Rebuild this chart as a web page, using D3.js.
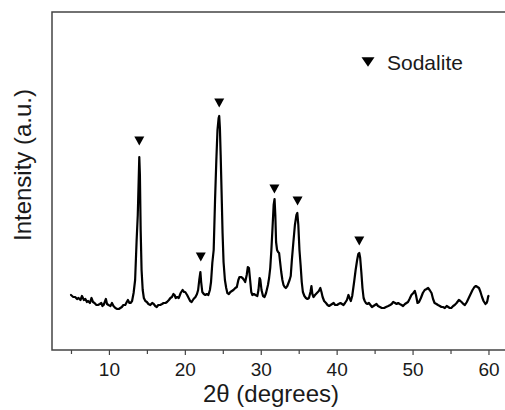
<!DOCTYPE html>
<html>
<head>
<meta charset="utf-8">
<script src="https://d3js.org/d3.v7.min.js"></script>
<style>
    body {
        margin: 0;
        background-color: #fff;
        font-family: 'Liberation Sans', Arial, sans-serif;
    }
</style>
</head>
<body>
    <svg width="505" height="410"></svg>
    <script type="text/javascript">
    // XRD pattern (2theta in degrees, intensity in a.u.)
    var twoTheta = [5.0, 5.3, 5.55, 5.8, 6.0, 6.25, 6.45, 6.7, 6.9, 7.1, 7.25, 7.5, 7.7, 7.9, 8.1, 8.35, 8.55, 8.8, 9.0, 9.15,
        9.3, 9.45, 9.6, 9.75, 9.95, 10.2, 10.4, 10.6, 10.85, 11.1, 11.3, 11.5, 11.7, 11.9, 12.15, 12.35, 12.5, 12.7, 12.85, 13.05,
        13.25, 13.45, 13.65, 13.8, 13.92, 14.0, 14.08, 14.18, 14.3, 14.45, 14.6, 14.8, 15.0, 15.2, 15.45, 15.7, 15.9, 16.1, 16.3, 16.5,
        16.75, 17.0, 17.2, 17.45, 17.65, 17.9, 18.1, 18.3, 18.5, 18.65, 18.8, 19.0, 19.2, 19.45, 19.7, 19.9, 20.05, 20.3, 20.5, 20.7,
        20.9, 21.15, 21.4, 21.6, 21.75, 21.9, 22.05, 22.15, 22.3, 22.5, 22.7, 22.9, 23.1, 23.3, 23.45, 23.62, 23.8, 23.98, 24.15, 24.3,
        24.45, 24.53, 24.62, 24.72, 24.85, 24.97, 25.1, 25.28, 25.45, 25.6, 25.8, 26.0, 26.2, 26.4, 26.65, 26.85, 27.05, 27.2, 27.4, 27.6,
        27.8, 27.95, 28.15, 28.3, 28.45, 28.6, 28.75, 28.9, 29.1, 29.3, 29.55, 29.7, 29.85, 29.95, 30.1, 30.3, 30.5, 30.7, 30.95, 31.1,
        31.25, 31.4, 31.55, 31.7, 31.82, 31.92, 32.02, 32.15, 32.28, 32.42, 32.55, 32.7, 32.85, 33.0, 33.15, 33.3, 33.5, 33.65, 33.8, 33.95,
        34.1, 34.3, 34.5, 34.7, 34.82, 34.95, 35.1, 35.25, 35.4, 35.55, 35.75, 35.95, 36.15, 36.35, 36.55, 36.68, 36.8, 36.95, 37.15, 37.4,
        37.65, 37.85, 38.0, 38.15, 38.35, 38.6, 38.8, 39.0, 39.2, 39.4, 39.6, 39.8, 40.05, 40.25, 40.5, 40.7, 40.9, 41.1, 41.35, 41.55,
        41.7, 41.87, 42.05, 42.3, 42.5, 42.7, 42.85, 42.98, 43.1, 43.25, 43.4, 43.55, 43.7, 43.85, 44.05, 44.25, 44.45, 44.65, 44.85, 45.05,
        45.25, 45.45, 45.7, 45.95, 46.25, 46.5, 46.8, 47.05, 47.25, 47.45, 47.7, 47.9, 48.1, 48.3, 48.55, 48.75, 49.0, 49.2, 49.4, 49.6,
        49.85, 50.1, 50.3, 50.45, 50.65, 50.85, 51.1, 51.35, 51.6, 51.85, 52.05, 52.25, 52.5, 52.7, 52.9, 53.15, 53.35, 53.6, 53.8, 54.0,
        54.25, 54.5, 54.7, 54.9, 55.1, 55.35, 55.55, 55.8, 56.1, 56.3, 56.45, 56.7, 56.9, 57.15, 57.4, 57.65, 57.9, 58.15, 58.35, 58.55,
        58.75, 58.95, 59.15, 59.35, 59.6, 59.75, 59.85, 59.95, 60.0];
    var intensity = [55, 53, 53, 51, 52, 50, 54, 50, 51, 48, 49, 47, 52, 48, 47, 45, 45, 46, 47, 44,
        45, 48, 51, 46, 45, 44, 47, 44, 42, 41, 41, 42, 43, 45, 45, 48, 50, 47, 47, 49,
        57, 70, 110, 135, 170, 193, 175, 120, 80, 60, 52, 49, 48, 46, 45, 47, 46, 44, 43, 45,
        45, 46, 47, 47, 48, 50, 52, 53, 56, 55, 52, 53, 52, 57, 60, 58, 58, 55, 52, 49,
        48, 51, 53, 56, 60, 70, 78, 68, 58, 56, 55, 56, 55, 60, 68, 87, 100, 150, 190, 220,
        232, 234, 222, 195, 155, 117, 88, 70, 62, 57, 56, 58, 59, 60, 62, 63, 70, 73, 73, 72,
        70, 68, 75, 83, 82, 70, 58, 55, 56, 55, 54, 60, 72, 70, 60, 54, 53, 57, 65, 72,
        82, 100, 122, 145, 151, 135, 108, 100, 98, 97, 88, 78, 70, 65, 63, 62, 64, 67, 70, 74,
        90, 108, 125, 135, 137, 125, 100, 85, 68, 58, 54, 52, 51, 52, 58, 64, 56, 53, 55, 57,
        59, 62, 58, 53, 49, 47, 45, 44, 45, 46, 47, 45, 45, 46, 47, 46, 45, 47, 50, 55,
        52, 49, 54, 68, 80, 90, 96, 97, 92, 78, 62, 52, 49, 47, 46, 47, 45, 43, 44, 45,
        46, 44, 43, 42, 42, 43, 44, 45, 46, 48, 47, 46, 47, 46, 45, 44, 46, 47, 48, 51,
        55, 57, 59, 55, 47, 48, 52, 57, 60, 61, 62, 60, 57, 51, 47, 46, 45, 44, 43, 43,
        42, 44, 43, 42, 42, 44, 45, 47, 50, 49, 48, 46, 45, 48, 52, 56, 60, 63, 64, 63,
        62, 58, 53, 49, 46, 47, 49, 53, 54];

    // Sodalite reflections (marker positions)
    var markerTheta = [14.0, 22.1, 24.53, 31.8, 34.85, 42.98];
    var markerLevel = [209, 93, 247, 161, 149, 109];

    var xMajor = [10, 20, 30, 40, 50, 60];
    var xMinor = [5, 15, 25, 35, 45, 55];
    var legendLabel = "Sodalite";

    var svg = d3.select("svg"),
        frame = {left: 52, top: 12, right: 512, bottom: 350};

    var data = twoTheta.map(function(t, i) { return {t: t, v: intensity[i]}; });

    var x = d3.scaleLinear()
        .domain([2.5, 63.1])
        .range([frame.left, frame.right]);

    var y = d3.scaleLinear()
        .domain([0, 338])
        .range([frame.bottom, frame.top]);

    // frame (right side runs off the picture)
    svg.append("path")
        .attr("fill", "none")
        .attr("stroke", "#444")
        .attr("stroke-width", 1.5)
        .attr("d", "M" + frame.right + "," + frame.top + "H" + frame.left +
            "V" + frame.bottom + "H" + frame.right);

    var minorAxis = d3.axisBottom(x)
        .tickValues(xMinor)
        .tickSize(4)
        .tickSizeOuter(0)
        .tickFormat("");
    var gMinor = svg.append("g")
        .attr("transform", "translate(0," + frame.bottom + ")")
        .call(minorAxis);
    gMinor.select(".domain").remove();
    gMinor.selectAll(".tick line").attr("stroke", "#444").attr("stroke-width", 1.2);

    var majorAxis = d3.axisBottom(x)
        .tickValues(xMajor)
        .tickSize(5)
        .tickSizeOuter(0)
        .tickPadding(8);
    var gMajor = svg.append("g")
        .attr("transform", "translate(0," + frame.bottom + ")")
        .call(majorAxis);
    gMajor.select(".domain").remove();
    gMajor.selectAll(".tick line").attr("stroke", "#444").attr("stroke-width", 1.2);
    gMajor.selectAll(".tick text")
        .attr("fill", "#1a1a1a")
        .style("font", "19px 'Liberation Sans', Arial, sans-serif");

    // axis titles
    svg.append("text")
        .attr("x", 271)
        .attr("y", 402)
        .attr("text-anchor", "middle")
        .attr("fill", "#1a1a1a")
        .style("font", "24px 'Liberation Sans', Arial, sans-serif")
        .text("2θ (degrees)");

    svg.append("text")
        .attr("transform", "translate(31,165) rotate(-90)")
        .attr("text-anchor", "middle")
        .attr("fill", "#1a1a1a")
        .style("font", "24px 'Liberation Sans', Arial, sans-serif")
        .text("Intensity (a.u.)");

    // pattern
    var line = d3.line()
        .x(function(d) { return x(d.t); })
        .y(function(d) { return y(d.v); });

    svg.append("path")
        .datum(data)
        .attr("fill", "none")
        .attr("stroke", "#000")
        .attr("stroke-width", 2.2)
        .attr("stroke-linejoin", "round")
        .attr("stroke-linecap", "round")
        .attr("d", line);

    // peak markers
    svg.selectAll(".marker")
        .data(markerTheta)
        .enter().append("path")
        .attr("class", "marker")
        .attr("fill", "#000")
        .attr("transform", function(d, i) { return "translate(" + x(d) + "," + y(markerLevel[i]) + ")"; })
        .attr("d", "M-5,-4.5L5,-4.5L0,4.5Z");

    // legend
    var legend = svg.append("g").attr("transform", "translate(368,62)");
    legend.append("path")
        .attr("fill", "#000")
        .attr("d", "M-6.5,-4.8L6.5,-4.8L0,4.8Z");
    legend.append("text")
        .attr("x", 19)
        .attr("y", 8)
        .attr("fill", "#1a1a1a")
        .style("font", "21px 'Liberation Sans', Arial, sans-serif")
        .text(legendLabel);
    </script>
</body>
</html>
